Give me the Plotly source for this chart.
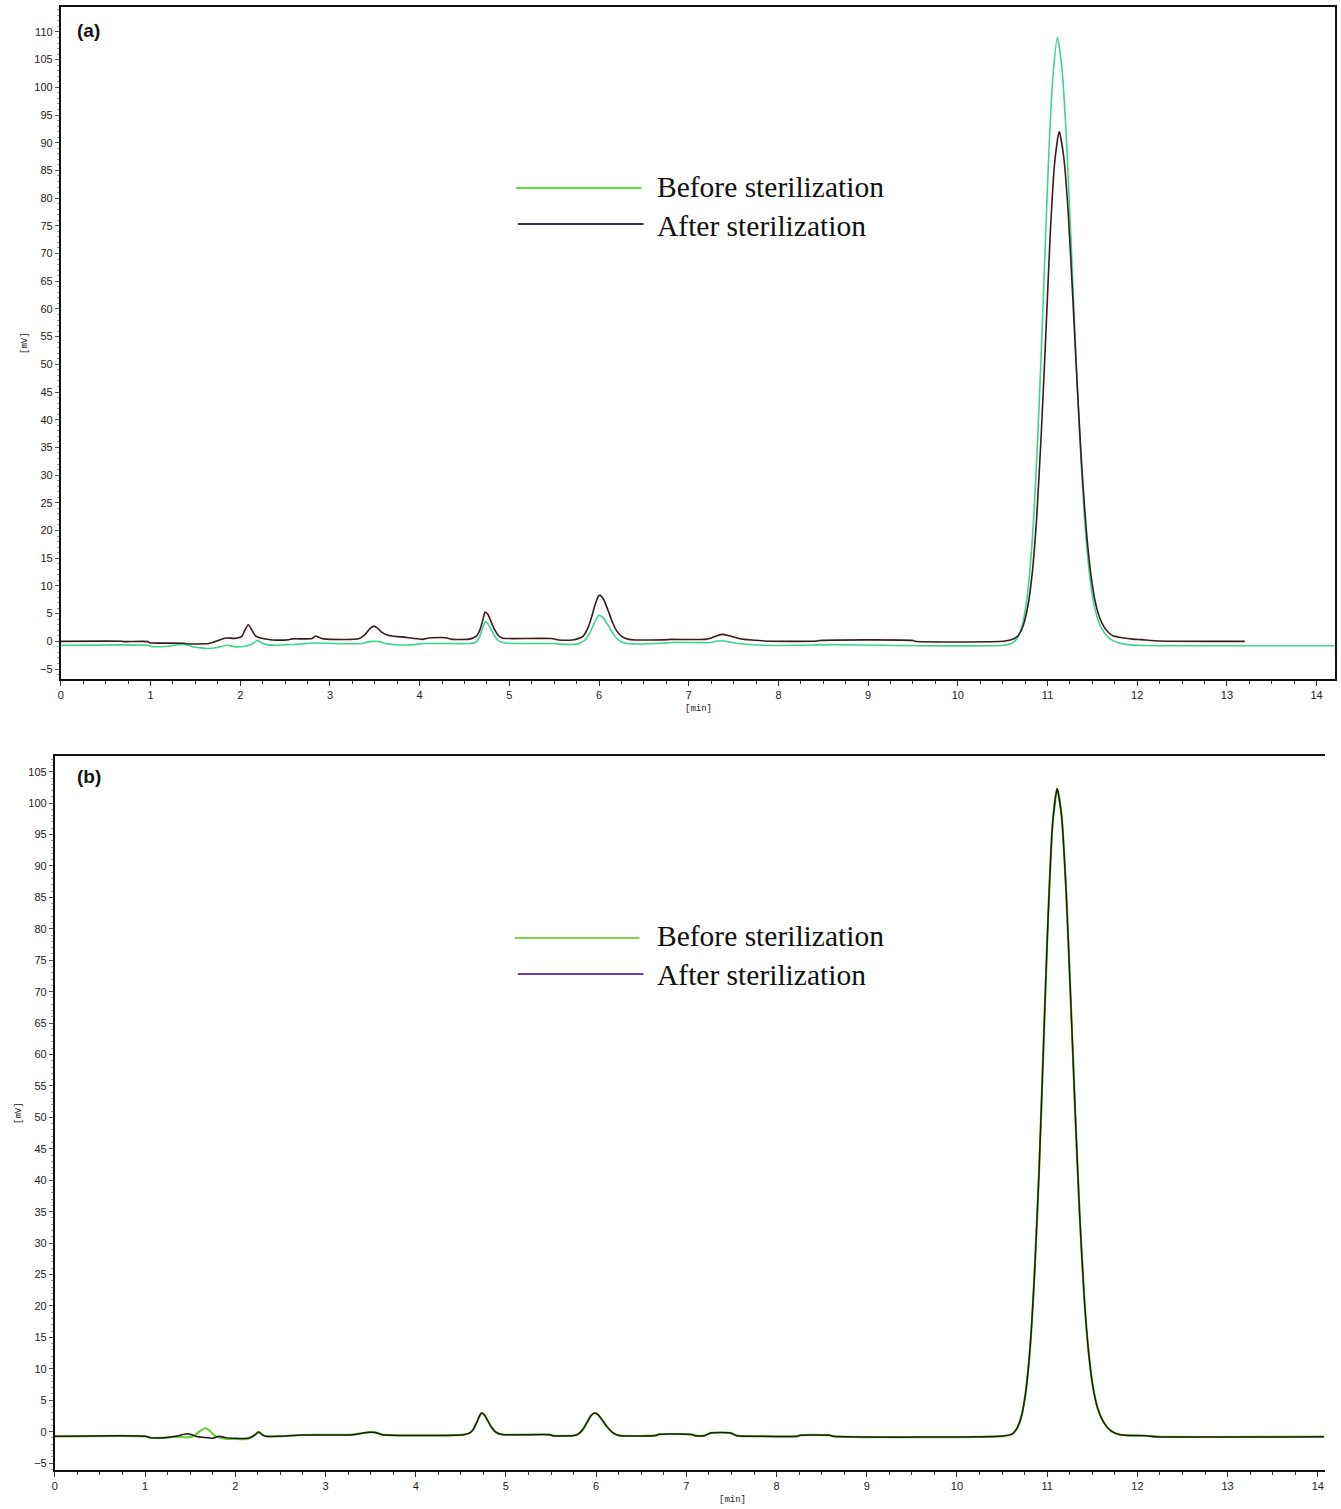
import plotly.graph_objects as go

W, H = 1341, 1509

# ---------------- Panel (a) data ----------------
a_after_t = [0.00, 0.69, 0.70, 0.97, 0.99, 1.37, 1.40, 1.65, 1.72, 1.80, 1.84, 1.95, 2.02, 2.05, 2.09, 2.13,
             2.17, 2.25, 2.36, 2.54, 2.58, 2.80, 2.84, 2.88, 2.93, 3.32, 3.39, 3.44, 3.49, 3.53, 3.58, 3.64,
             3.69, 3.80, 3.92, 4.03, 4.10, 4.14, 4.29, 4.36, 4.55, 4.60, 4.64, 4.67, 4.70, 4.73, 4.76, 4.79,
             4.83, 4.87, 4.92, 5.00, 5.47, 5.55, 5.70, 5.75, 5.82, 5.87, 5.91, 5.95, 5.99, 6.01, 6.05, 6.10,
             6.15, 6.20, 6.26, 6.33, 6.40, 6.77, 6.80, 7.18, 7.25, 7.32, 7.38, 7.45, 7.55, 7.62, 7.75, 7.84,
             8.43, 8.45, 9.50, 9.52, 10.53, 10.63, 10.68, 10.73, 10.78, 10.83, 10.88, 10.93, 10.98, 11.03,
             11.08, 11.13, 11.18, 11.23, 11.28, 11.33, 11.38, 11.43, 11.48, 11.53, 11.58, 11.63, 11.68,
             11.73, 11.85, 11.95, 12.05, 12.25, 13.20]
a_after_v = [0.00, 0.00, -0.05, -0.05, -0.25, -0.35, -0.45, -0.40, -0.05, 0.40, 0.60, 0.55, 0.95, 2.00, 3.00, 2.00,
             1.00, 0.50, 0.25, 0.30, 0.45, 0.50, 0.95, 0.70, 0.45, 0.45, 1.20, 2.20, 2.75, 2.40, 1.60, 1.15,
             0.95, 0.80, 0.55, 0.35, 0.60, 0.65, 0.65, 0.35, 0.40, 0.65, 1.10, 2.00, 3.60, 5.30, 4.90, 3.80,
             2.30, 1.20, 0.60, 0.50, 0.50, 0.25, 0.25, 0.40, 0.90, 2.20, 4.00, 6.30, 8.10, 8.30, 7.60, 5.60,
             3.40, 1.80, 0.80, 0.35, 0.25, 0.30, 0.35, 0.35, 0.60, 1.05, 1.25, 1.00, 0.55, 0.35, 0.20, 0.05,
             0.05, 0.15, 0.15, 0.00, 0.05, 0.50, 1.20, 2.90, 6.30, 12.4, 22.6, 37.5, 55.0, 73.5,
             86.5, 92.0, 87.5, 77.5, 62.5, 46.5, 32.0, 20.5, 12.5, 7.30, 4.30, 2.60, 1.60,
             1.00, 0.60, 0.40, 0.30, 0.05, 0.00]

a_before_t = [0.00, 0.97, 1.02, 1.20, 1.25, 1.36, 1.42, 1.47, 1.55, 1.62, 1.70, 1.77, 1.86, 1.95, 2.05, 2.10,
              2.15, 2.19, 2.23, 2.28, 2.39, 2.61, 2.84, 3.06, 3.36, 3.42, 3.47, 3.55, 3.62, 3.77, 3.95, 4.03,
              4.55, 4.62, 4.66, 4.70, 4.73, 4.76, 4.80, 4.85, 4.90, 5.00, 5.50, 5.55, 5.75, 5.80, 5.85, 5.90,
              5.95, 6.00, 6.05, 6.10, 6.16, 6.22, 6.29, 6.70, 6.81, 7.25, 7.30, 7.36, 7.45, 7.55, 7.84, 8.21,
              8.58, 9.14, 10.51, 10.61, 10.66, 10.71, 10.76, 10.81, 10.86, 10.91, 10.96, 11.01, 11.06, 11.11,
              11.16, 11.21, 11.26, 11.31, 11.36, 11.41, 11.46, 11.51, 11.56, 11.61, 11.66, 11.71, 11.80,
              11.90, 12.10, 12.30, 14.20]
a_before_v = [-0.72, -0.72, -0.97, -0.90, -0.72, -0.55, -0.70, -0.97, -1.15, -1.30, -1.20, -1.00, -0.72, -1.00, -0.90, -0.72,
              -0.30, 0.18, -0.20, -0.55, -0.72, -0.55, -0.30, -0.40, -0.40, -0.10, 0.00, -0.05, -0.40, -0.65, -0.60, -0.40,
              -0.40, -0.20, 0.50, 2.30, 3.50, 3.20, 2.00, 0.60, -0.10, -0.35, -0.40, -0.50, -0.50, -0.20, 0.30, 1.60,
              3.40, 4.70, 4.20, 2.90, 1.30, 0.20, -0.36, -0.36, -0.20, -0.20, 0.00, 0.10, -0.10, -0.40, -0.72, -0.72,
              -0.60, -0.72, -0.72, -0.30, 0.50, 2.40, 6.50, 14.0, 26.5, 44.0, 65.0, 86.5, 102.0, 109.0,
              103.5, 91.0, 73.0, 54.0, 36.5, 22.8, 13.3, 7.30, 4.00, 2.10, 1.00, 0.30, -0.30,
              -0.60, -0.75, -0.80, -0.80]

# ---------------- Panel (b) data ----------------
b_after_t = [0.00, 1.01, 1.05, 1.23, 1.34, 1.42, 1.47, 1.52, 1.56, 1.64, 1.75, 1.82, 1.89, 2.00, 2.15, 2.21,
             2.26, 2.30, 2.34, 2.48, 2.74, 3.30, 3.40, 3.48, 3.55, 3.63, 4.53, 4.60, 4.64, 4.68, 4.71, 4.73,
             4.76, 4.80, 4.84, 4.89, 4.96, 5.49, 5.52, 5.75, 5.80, 5.85, 5.90, 5.94, 5.98, 6.02, 6.07, 6.12,
             6.18, 6.25, 6.66, 6.70, 7.06, 7.10, 7.20, 7.27, 7.49, 7.56, 7.82, 8.23, 8.26, 8.59, 8.63, 10.51,
             10.61, 10.66, 10.71, 10.76, 10.81, 10.86, 10.91, 10.96, 11.01, 11.06, 11.11, 11.16, 11.21,
             11.26, 11.31, 11.36, 11.41, 11.46, 11.51, 11.56, 11.61, 11.66, 11.71, 11.80, 11.90, 12.10,
             12.21, 14.07]
b_after_v = [-0.75, -0.75, -0.95, -0.95, -0.74, -0.45, -0.32, -0.50, -0.74, -0.90, -1.06, -0.74, -0.95, -1.06, -1.00, -0.60,
             -0.05, -0.50, -0.74, -0.74, -0.53, -0.48, -0.25, -0.10, -0.12, -0.48, -0.48, -0.20, 0.40, 1.60, 2.60, 2.97,
             2.70, 1.70, 0.70, -0.10, -0.45, -0.48, -0.64, -0.62, -0.40, 0.30, 1.50, 2.50, 2.97, 2.70, 1.80, 0.80,
             -0.10, -0.60, -0.60, -0.42, -0.45, -0.64, -0.64, -0.20, -0.20, -0.64, -0.74, -0.74, -0.58, -0.58, -0.74, -0.70,
             -0.40, 0.40, 2.20, 6.10, 13.3, 25.3, 41.5, 61.8, 81.8, 96.7, 102.3, 97.9, 86.0,
             69.0, 51.0, 34.5, 21.5, 12.5, 6.90, 3.70, 1.90, 0.80, 0.10, -0.45, -0.60, -0.65,
             -0.80, -0.80]

b_before_t = [0.00, 1.01, 1.05, 1.23, 1.34, 1.47, 1.55, 1.60, 1.67, 1.72, 1.78, 1.89, 2.15, 2.21,
              2.26, 2.30, 2.34, 2.48, 2.74, 3.30, 3.40, 3.48, 3.55, 3.63, 4.53, 4.60, 4.64, 4.68, 4.71, 4.73,
              4.76, 4.80, 4.84, 4.89, 4.96, 5.49, 5.52, 5.75, 5.80, 5.85, 5.90, 5.94, 5.98, 6.02, 6.07, 6.12,
              6.18, 6.25, 6.66, 6.70, 7.06, 7.10, 7.20, 7.27, 7.49, 7.56, 7.82, 8.23, 8.26, 8.59, 8.63, 10.51,
              10.61, 10.66, 10.71, 10.76, 10.81, 10.86, 10.91, 10.96, 11.01, 11.06, 11.11, 11.16, 11.21,
              11.26, 11.31, 11.36, 11.41, 11.46, 11.51, 11.56, 11.61, 11.66, 11.71, 11.80, 11.90, 12.10,
              12.21, 14.07]
b_before_v = [-0.75, -0.75, -0.95, -0.95, -0.80, -0.90, -0.60, 0.00, 0.58, 0.10, -0.74, -1.10, -1.10, -0.60,
              -0.05, -0.50, -0.74, -0.74, -0.53, -0.48, -0.25, -0.10, -0.12, -0.48, -0.48, -0.20, 0.40, 1.60, 2.60, 2.97,
              2.70, 1.70, 0.70, -0.10, -0.45, -0.48, -0.64, -0.62, -0.40, 0.30, 1.50, 2.50, 2.97, 2.70, 1.80, 0.80,
              -0.10, -0.60, -0.60, -0.42, -0.45, -0.64, -0.64, -0.20, -0.20, -0.64, -0.74, -0.74, -0.58, -0.58, -0.74, -0.70,
              -0.40, 0.40, 2.20, 6.10, 13.3, 25.3, 41.5, 61.8, 81.8, 96.7, 102.3, 97.9, 86.0,
              69.0, 51.0, 34.5, 21.5, 12.5, 6.90, 3.70, 1.90, 0.80, 0.10, -0.45, -0.60, -0.65,
              -0.80, -0.80]

series_names = ["Before sterilization", "After sterilization"]
x_ticks = list(range(0, 15))
ya_ticks = list(range(-5, 111, 5))
yb_ticks = list(range(-5, 106, 5))

# ---------------- colours ----------------
A_BEFORE = "#3fd48c"
A_AFTER = "#3a1c1c"
B_BEFORE = "#6ccc3a"
B_AFTER = "#1e1a14"
LEG_A = ["#55e03a", "#3b2a57"]
LEG_B = ["#7ada46", "#6a40b8"]

def px2x(px):
    return px / W

def py2y(py):
    return 1 - py / H

fig = go.Figure()
line_kw = dict(shape="spline", smoothing=0.6)
fig.add_trace(go.Scatter(x=a_before_t, y=a_before_v, mode="lines", line=dict(color=A_BEFORE, width=1.6, **line_kw),
                         xaxis="x", yaxis="y", showlegend=False))
fig.add_trace(go.Scatter(x=a_after_t, y=a_after_v, mode="lines", line=dict(color=A_AFTER, width=1.6, **line_kw),
                         xaxis="x", yaxis="y", showlegend=False))
fig.add_trace(go.Scatter(x=b_before_t, y=b_before_v, mode="lines", line=dict(color=B_BEFORE, width=2.2, **line_kw),
                         xaxis="x2", yaxis="y2", showlegend=False))
fig.add_trace(go.Scatter(x=b_after_t, y=b_after_v, mode="lines", line=dict(color=B_AFTER, width=1.5, **line_kw),
                         xaxis="x2", yaxis="y2", showlegend=False))

tickfont = dict(family="Liberation Sans, Arial", size=11, color="#222222")
minor_x = dict(dtick=0.25, ticklen=3, tickcolor="#333333", ticks="outside", tickwidth=1)
minor_y = dict(dtick=1, ticklen=2, tickcolor="#999999", ticks="outside", tickwidth=1)

common_x = dict(showgrid=False, zeroline=False, showline=True, linewidth=2, linecolor="#111111",
                ticks="outside", ticklen=5, tickwidth=1, tickcolor="#333333", tickfont=tickfont,
                tickvals=x_ticks, minor=minor_x)
common_y = dict(showgrid=False, zeroline=False, showline=True, linewidth=2, linecolor="#111111",
                ticks="outside", ticklen=4, tickwidth=1, tickcolor="#555555", tickfont=tickfont, minor=minor_y)

fig.update_layout(
    width=W, height=H, margin=dict(l=0, r=0, t=0, b=0),
    paper_bgcolor="white", plot_bgcolor="white",
    xaxis=dict(domain=[px2x(58), px2x(1335)], range=[0, 14.205], anchor="y", mirror=True, **common_x),
    yaxis=dict(domain=[py2y(679), py2y(7)], range=[-6.8, 114.5], anchor="x", mirror=True,
               tickvals=ya_ticks, **common_y),
    xaxis2=dict(domain=[px2x(52), px2x(1325)], range=[0, 14.08], anchor="y2", mirror=True, **common_x),
    yaxis2=dict(domain=[py2y(1470), py2y(756)], range=[-6.1, 107.5], anchor="x2",
                tickvals=yb_ticks, **common_y),
)

ann = []
shapes = []
mono = dict(family="Liberation Mono, DejaVu Sans Mono", size=9, color="#222222")
def note(px, py, text, font, xa="center", angle=0):
    ann.append(dict(x=px2x(px), y=py2y(py), text=text, showarrow=False, font=font, xanchor=xa,
                    yanchor="middle", textangle=angle, xref="paper", yref="paper"))

# axis titles
note(697, 709, "[min]", mono)
note(22, 343, "[mV]", mono, angle=-90)
note(731, 1500, "[min]", mono)
note(16, 1113, "[mV]", mono, angle=-90)
# panel labels
lab = dict(family="Liberation Sans, Arial", size=19, color="#111111")
note(72, 30, "<b>(a)</b>", lab, xa="left")
note(72, 776, "<b>(b)</b>", lab, xa="left")

# legends
serif = dict(family="Liberation Serif, Times New Roman", size=29.5, color="#111111")
leg_specs = [
    (LEG_A, [(514, 640, 188), (516, 642, 224)], [187, 226]),
    (LEG_B, [(513, 638, 938), (516, 642, 974)], [936, 975]),
]
for cols, lines, tys in leg_specs:
    for (x0, x1, yy), c, ty, name in zip(lines, cols, tys, series_names):
        shapes.append(dict(type="line", xref="paper", yref="paper", x0=px2x(x0), x1=px2x(x1),
                           y0=py2y(yy), y1=py2y(yy), line=dict(color=c, width=2)))
        note(653, ty, name, serif, xa="left")

fig.update_layout(annotations=ann, shapes=shapes)
fig.write_html("out.html", config={"displayModeBar": False},
               post_script="document.body.style.margin='0';document.body.style.overflow='hidden';")
